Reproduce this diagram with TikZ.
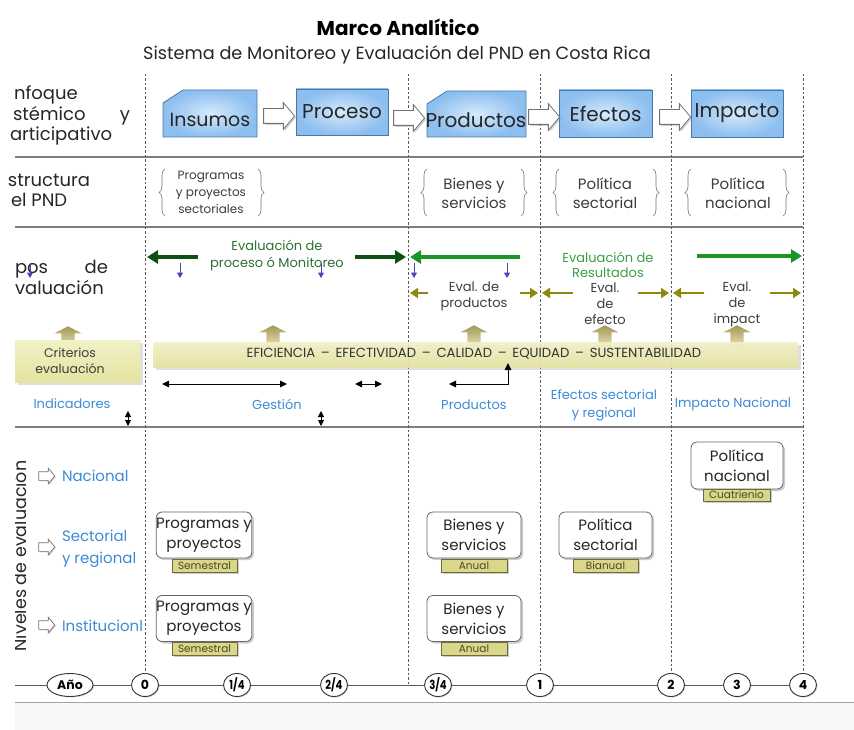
\documentclass[tikz,border=0pt]{standalone}
\usepackage{fontspec}
\setmainfont{Poppins}
\usetikzlibrary{shapes.arrows,shapes.geometric,arrows.meta,shadows,decorations.pathreplacing}
\definecolor{boxblue}{HTML}{8CBEEF}
\definecolor{boxlight}{HTML}{D6EAFC}
\definecolor{boxedge}{HTML}{4A78A8}
\definecolor{dkgreen}{HTML}{0E4F14}
\definecolor{brgreen}{HTML}{1C9426}
\definecolor{txgreenA}{HTML}{2B7034}
\definecolor{txgreenB}{HTML}{3A9E44}
\definecolor{olivearr}{HTML}{8C8810}
\definecolor{arrblue}{HTML}{4646B8}
\definecolor{lblblue}{HTML}{3D8AD6}
\definecolor{khaki}{HTML}{E5E3A0}
\definecolor{khakilight}{HTML}{F2F1C8}
\definecolor{tagfill}{HTML}{DAD68A}
\definecolor{tagedge}{HTML}{6E6A3A}
\definecolor{tagtext}{HTML}{4A4826}
\definecolor{tantop}{HTML}{A39858}
\definecolor{tanbot}{HTML}{E8E4B8}
\definecolor{dashgray}{HTML}{5A5A5A}
\definecolor{rulegray}{HTML}{7E7E7E}
\definecolor{txgray}{HTML}{3C3C3C}
\newcommand{\fsz}[2]{\fontsize{#1}{#2}\selectfont}
\begin{document}
\begin{tikzpicture}[x=1pt,y=-1pt,
  every node/.style={inner sep=0pt,outer sep=0pt},
  rulel/.style={draw=rulegray,line width=1.3pt},
  vdash/.style={draw=dashgray,line width=0.8pt,dash pattern=on 2.5pt off 2pt},
  lefthdr/.style={anchor=base west,font=\fsz{18}{22},text=black!85},
  bluebox/.style={draw=boxedge,line width=0.8pt,inner color=boxlight,outer color=boxblue},
  bigtxt/.style={font=\fsz{20}{24},text=black!85},
  blockarr/.style={single arrow,draw=black!55,fill=white,line width=0.8pt,
     inner xsep=0pt,inner ysep=7pt,
     minimum height=31pt,single arrow head extend=6pt,
     single arrow tip angle=100,
     drop shadow={shadow xshift=1.5pt,shadow yshift=-1.5pt,opacity=0.35}},
  smallarr/.style={single arrow,draw=black!55,fill=white,line width=0.7pt,
     inner xsep=0pt,inner ysep=4pt,
     minimum height=16pt,single arrow head extend=3.5pt,
     single arrow tip angle=100,
     drop shadow={shadow xshift=1pt,shadow yshift=-1pt,opacity=0.35}},
  uparr/.style={single arrow,shape border rotate=90,top color=tantop,bottom color=tanbot,draw=none,
     inner sep=6.5pt,minimum height=22pt,single arrow head extend=7pt,single arrow tip angle=125},
  bracetxt/.style={align=center,text=txgray},
  brc/.style={draw=black!55,line width=0.6pt,decorate,decoration={brace,amplitude=6pt}},
  dkarrow/.style={draw=dkgreen,line width=4pt,-{Triangle[length=11pt,width=13pt]}},
  brarrow/.style={draw=brgreen,line width=3.5pt,-{Triangle[length=11pt,width=13pt]}},
  olarrow/.style={draw=olivearr,line width=2.8pt,-{Triangle[length=8pt,width=10pt]}},
  bluedown/.style={draw=arrblue,line width=1pt,-{Triangle[length=5.5pt,width=6pt]}},
  blkarr/.style={draw=black,line width=1pt,{Triangle[length=7pt,width=6.5pt]}-{Triangle[length=7pt,width=6.5pt]}},
  vblk/.style={draw=black,line width=1pt,{Triangle[length=6pt,width=6pt]}-{Triangle[length=6pt,width=6pt]}},
  evtxt/.style={align=center,font=\fsz{13}{16},text=txgray},
  bluelbl/.style={align=center,font=\fsz{13}{18},text=lblblue},
  lvllbl/.style={anchor=west,align=left,font=\fsz{15}{22},text=lblblue},
  critbar/.style={draw=none,top color=khakilight,bottom color=khaki,
     drop shadow={shadow xshift=3pt,shadow yshift=-3pt,opacity=0.25}},
  lvlbox/.style={draw=black!60,fill=white,rounded corners=6pt,line width=0.8pt,
     minimum height=46pt,align=center,font=\fsz{15}{20},text=black!85,
     drop shadow={shadow xshift=2pt,shadow yshift=-2pt,opacity=0.4}},
  tagbox/.style={draw=tagedge,fill=tagfill,line width=0.6pt,minimum height=13pt,
     font=\fsz{10.5}{12},text=tagtext,
     drop shadow={shadow xshift=1.5pt,shadow yshift=-1.5pt,opacity=0.4}},
  yrnode/.style={ellipse,draw=black!80,fill=white,line width=0.9pt,minimum height=23pt,
     minimum width=27pt,font=\bfseries\fsz{12.5}{14},
     drop shadow={shadow xshift=1pt,shadow yshift=-1pt,opacity=0.3}}
]
\path[use as bounding box] (0,0) rectangle (854,730);

% ---------- titles
\node[font=\bfseries\fsz{20}{24}] (title) at (398,27) {Marco Analítico};
\node[font=\fsz{17.7}{20},text=black!85] (subtitle) at (397,55) {Sistema de Monitoreo y Evaluación del PND en Costa Rica};

% ---------- bottom band
\fill[black!3] (15,703) rectangle (854,730);
\draw[draw=rulegray!70,line width=0.8pt] (15,702) -- (854,702);

% ---------- horizontal rules
\draw[rulel] (15,157) -- (803,157);
\draw[rulel] (15,227) -- (803,227);
\draw[rulel] (15,427) -- (803,427);

% ---------- timeline
\coordinate (tlstart) at (15,685);
\coordinate (tlmid) at (408,685);
\node[yrnode,minimum width=46pt] (tano) at (70,685) {Año};
\node[yrnode] (t0) at (145,685) {0};
\node[yrnode] (tq1) at (237,685) {\scalebox{0.8}[1]{1/4}};
\node[yrnode] (tq2) at (334,685) {\scalebox{0.8}[1]{2/4}};
\node[yrnode] (tq3) at (438,685) {\scalebox{0.8}[1]{3/4}};
\node[yrnode] (t1) at (540,685) {1};
\node[yrnode] (t2) at (671,685) {2};
\node[yrnode] (t3) at (737,685) {3};
\node[yrnode] (t4) at (803,685) {4};
\draw[black!65,line width=0.9pt] (tlstart) -- (tano) -- (t0) -- (tq1) -- (tq2) -- (tq3) -- (t1) -- (t2) -- (t3) -- (t4);

% ---------- vertical dashed lines
\coordinate (d0) at (145,74);
\coordinate (d1) at (408,74);
\coordinate (d2) at (540,74);
\coordinate (d3) at (671,74);
\coordinate (d4) at (803,74);
\draw[vdash] (d0) -- (t0.north);
\draw[vdash] (d1) -- (tlmid);
\draw[vdash] (d2) -- (t1.north);
\draw[vdash] (d3) -- (t2.north);
\draw[vdash] (d4) -- (t4.north);

% ---------- left headers
\node[lefthdr] (h1a) at (14,100) {nfoque};
\node[lefthdr] (h1b) at (13,121) {stémico};
\node[lefthdr,anchor=base east] (h1c) at (130,121) {y};
\node[lefthdr] (h1d) at (10,141) {articipativo};
\node[lefthdr] (h2a) at (8,187) {structura};
\node[lefthdr] (h2b) at (11,207) {el PND};
\node[lefthdr] (h3a) at (15,273) {pos};
\node[lefthdr,anchor=base east] (h3b) at (108,273) {de};
\node[lefthdr] (h3c) at (15,294) {valuación};

% ---------- row 1 boxes
\draw[bluebox] (163,103) -- (183,90) -- (257,90) -- (257,137) -- (163,137) -- cycle;
\node[bigtxt,font=\fsz{19}{24}] (ins) at (210,120) {Insumos};
\node[bluebox,bigtxt,minimum width=92pt,minimum height=46pt] (proc) at (342,112) {Proceso};
\draw[bluebox] (427,104) -- (447,91) -- (526,91) -- (526,137) -- (427,137) -- cycle;
\node[bigtxt] (prod) at (476,120) {Productos};
\node[bluebox,bigtxt,minimum width=93pt,minimum height=47pt] (efe) at (605.5,113.5) {Efectos};
\node[bluebox,bigtxt,minimum width=92pt,minimum height=47pt] (imp) at (737,113.5) {Impacto};
\node[blockarr] (a1) at (276,116) {};
\node[blockarr] (a2) at (406,118) {};
\node[blockarr] (a3) at (541,117) {};
\node[blockarr] (a4) at (672,117) {};

% ---------- row 2 braces
\node[bracetxt,font=\fsz{12}{17}] (b1) at (211,192) {Programas\\y proyectos\\sectoriales};
\draw[brc] (165,216) -- (165,169);
\draw[brc] (258,169) -- (258,216);
\node[bracetxt,font=\fsz{15}{19}] (b2) at (474,193) {Bienes y\\servicios};
\draw[brc] (427,216) -- (427,169);
\draw[brc] (521,169) -- (521,216);
\node[bracetxt,font=\fsz{15}{19}] (b3) at (605,193) {Política\\sectorial};
\draw[brc] (559,216) -- (559,169);
\draw[brc] (653,169) -- (653,216);
\node[bracetxt,font=\fsz{15}{19}] (b4) at (738,193) {Política\\nacional};
\draw[brc] (691,216) -- (691,169);
\draw[brc] (783,169) -- (783,216);

% ---------- row 3: types of evaluation
\node[align=center,font=\fsz{13}{17},text=txgreenA] (evp) at (277,256) {Evaluación de\\proceso ó Monitoreo};
\coordinate (g1s) at (198,257); \coordinate (g1e) at (147,257);
\coordinate (g2s) at (355,257); \coordinate (g2e) at (406,257);
\draw[dkarrow] (g1s) -- (g1e);
\draw[dkarrow] (g2s) -- (g2e);
\node[align=center,font=\fsz{13}{15},text=txgreenB] (evr) at (608,264.5) {Evaluación de\\Resultados};
\coordinate (g3s) at (520,257); \coordinate (g3e) at (410,257);
\coordinate (g4s) at (697,256); \coordinate (g4e) at (802,256);
\draw[brarrow] (g3s) -- (g3e);
\draw[brarrow] (g4s) -- (g4e);

% small blue arrows
\foreach \bx/\nm in {30/ba, 180/bb, 321/bc, 414/bd, 507/be} {
  \coordinate (\nm s) at (\bx,263);
  \coordinate (\nm e) at (\bx,278);
  \draw[bluedown] (\nm s) -- (\nm e);
}

% olive arrows
\coordinate (o1s) at (428,293); \coordinate (o1e) at (410,293);
\coordinate (o2s) at (520,293); \coordinate (o2e) at (538,293);
\coordinate (o3s) at (573,293); \coordinate (o3e) at (542,293);
\coordinate (o4s) at (638,293); \coordinate (o4e) at (669,293);
\coordinate (o5s) at (704,293); \coordinate (o5e) at (673,293);
\coordinate (o6s) at (770,293); \coordinate (o6e) at (801,293);
\draw[olarrow] (o1s) -- (o1e);
\draw[olarrow] (o2s) -- (o2e);
\draw[olarrow] (o3s) -- (o3e);
\draw[olarrow] (o4s) -- (o4e);
\draw[olarrow] (o5s) -- (o5e);
\draw[olarrow] (o6s) -- (o6e);
\node[evtxt] (ep) at (474,296) {Eval. de\\productos};
\node[evtxt] (ee) at (605,304) {Eval.\\de\\efecto};
\node[evtxt] (ei) at (737,304) {Eval.\\de\\impact};

% up arrows
\node[uparr] (u0) at (68,339) {};
\node[uparr] (u1) at (273,338) {};
\node[uparr] (u2) at (474,338) {};
\node[uparr] (u3) at (605,338) {};
\node[uparr] (u4) at (737,338) {};

% criteria bars
\node[critbar,minimum width=125pt,minimum height=42pt] (critbox) at (77.5,361) {};
\node[align=center,font=\fsz{12.5}{16},text=txgray] (crit) at (70,361) {Criterios\\evaluación};
\node[critbar,minimum width=645pt,minimum height=25pt,fill opacity=0.9] (bar) at (475.5,354.5) {};
\node[font=\fsz{13.2}{15},text=black!80] (bartxt) at (474,354) {EFICIENCIA \,–\, EFECTIVIDAD \,–\, CALIDAD \,–\, EQUIDAD \,–\, SUSTENTABILIDAD};

% black arrows
\coordinate (k1a) at (162,384); \coordinate (k1b) at (287,384);
\coordinate (k2a) at (355,384); \coordinate (k2b) at (382,384);
\draw[blkarr] (k1a) -- (k1b);
\draw[blkarr] (k2a) -- (k2b);
\coordinate (k3a) at (449,384); \coordinate (k3c) at (508,384); \coordinate (k3b) at (508,363);
\draw[blkarr] (k3a) -- (k3c) -- (k3b);
\coordinate (k4a) at (128,411); \coordinate (k4b) at (128,426);
\coordinate (k5a) at (321,411); \coordinate (k5b) at (321,426);
\draw[vblk] (k4a) -- (k4b);
\draw[vblk] (k5a) -- (k5b);

% blue labels
\node[bluelbl] (ind) at (72,404) {Indicadores};
\node[bluelbl] (ges) at (277,404) {Gestión};
\node[bluelbl] (prl) at (474,405) {Productos};
\node[bluelbl] (efl) at (604,405) {Efectos sectorial\\y regional};
\node[bluelbl] (iml) at (733,404) {Impacto Nacional};

% ---------- row 4: levels
\begin{scope}
\clip (15,430) rectangle (60,670);
\node[rotate=90,anchor=base,font=\fsz{17.5}{20},text=black!85] (niv) at (27,556) {Niveles de evaluación};
\end{scope}
\node[smallarr] (s1) at (45,476) {};
\node[smallarr] (s2) at (45,547) {};
\node[smallarr] (s3) at (45,625) {};
\node[lvllbl] (nac) at (62,476) {Nacional};
\node[lvllbl] (sec) at (62,549) {Sectorial\\y regional};
\node[lvllbl] (ins2) at (62,626) {Institucionl};

\node[lvlbox,minimum width=92pt] (pp1) at (204,535) {Programas y\\proyectos};
\node[tagbox,minimum width=65pt] (tg1) at (204.5,565.5) {Semestral};
\node[lvlbox,minimum width=92pt] (pp2) at (204,618.5) {Programas y\\proyectos};
\node[tagbox,minimum width=65pt] (tg2) at (204.5,649) {Semestral};
\node[lvlbox,minimum width=94pt] (bs1) at (474,535) {Bienes y\\servicios};
\node[tagbox,minimum width=66pt] (tg3) at (474,565.5) {Anual};
\node[lvlbox,minimum width=94pt] (bs2) at (474,618.5) {Bienes y\\servicios};
\node[tagbox,minimum width=66pt] (tg4) at (474,649) {Anual};
\node[lvlbox,minimum width=93pt] (ps) at (605.5,535) {Política\\sectorial};
\node[tagbox,minimum width=65pt] (tg5) at (605.5,565.5) {Bianual};
\node[lvlbox,minimum width=92pt,minimum height=47pt] (pn) at (737,465.5) {Política\\nacional};
\node[tagbox,minimum width=67pt,minimum height=12pt] (tg6) at (736.5,495) {Cuatrienio};
\end{tikzpicture}
\end{document}
